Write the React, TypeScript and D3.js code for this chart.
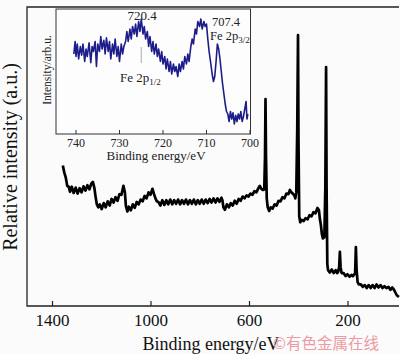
import React from "react";
import * as d3 from "d3";

// Main survey spectrum: binding energy (eV) and relative intensity (a.u.)
const surveyEnergy = [
  1358, 1352, 1346, 1340, 1334, 1329, 1322, 1314, 1306, 1298, 1290, 1282, 1274, 1266, 1258, 1250, 1242, 1236,
  1230, 1225, 1220, 1214, 1208, 1200, 1192, 1184, 1176, 1168, 1160, 1152, 1144, 1136, 1128, 1120, 1112, 1106,
  1102, 1096, 1090, 1082, 1074, 1066, 1058, 1050, 1042, 1034, 1026, 1018, 1010, 1002, 994, 988, 982, 976,
  970, 962, 954, 946, 938, 930, 922, 914, 906, 898, 890, 882, 874, 866, 858, 850, 842, 834, 826, 818, 810,
  802, 794, 786, 778, 770, 762, 754, 746, 738, 730, 722, 714, 710, 706, 700, 692, 684, 676, 668, 660, 652,
  644, 636, 628, 620, 612, 604, 596, 588, 580, 572, 564, 558, 552, 546, 540, 537, 535, 533, 530, 526, 520,
  514, 506, 498, 490, 482, 474, 466, 458, 450, 442, 436, 430, 424, 418, 414, 410, 406, 403, 401, 398, 394,
  388, 380, 372, 364, 356, 348, 340, 332, 324, 318, 314, 310, 306, 302, 296, 292, 289, 287, 284, 281, 274,
  266, 258, 250, 244, 240, 236, 233, 230, 226, 218, 210, 202, 194, 186, 180, 176, 171, 168, 165, 161, 156,
  148, 140, 132, 124, 116, 108, 100, 92, 84, 76, 68, 60, 52, 44, 36, 28, 20, 13, 8, 2, -7,
];
const surveyIntensity = [
  47, 44.6, 42.9, 40.1, 39.9, 38.2, 39.9, 37.8, 39.6, 37.6, 39.4, 38, 40, 38.6, 40.4, 39, 41, 41.5,
  39.5, 36.5, 34, 33, 34, 32.4, 34.4, 33, 35, 33.6, 35.8, 34.6, 36.4, 35.2, 37.4, 37.2, 40.2, 38,
  33.5, 31.6, 33.2, 32, 34, 32.8, 34.8, 34, 35.6, 35, 36.8, 36, 38, 37.2, 39.2, 37.5, 36, 35,
  34.8, 33.6, 35.4, 33.8, 35.4, 34, 35.6, 34, 35.4, 34.2, 35.6, 34, 35.4, 34.2, 35.6, 34, 35.4, 34.2, 35.6, 34, 35.4,
  34.2, 35.6, 34.2, 35.6, 34.4, 35.8, 34.6, 36, 34.6, 36, 34.8, 36.2, 35.4, 33, 32.2, 34, 33, 34.4, 33.6, 35.2, 34.2,
  35.8, 35.2, 36.6, 36, 37, 36.6, 37.6, 37.2, 38.4, 38, 39.4, 40.2, 39.2, 38.8, 39, 50, 69.2, 50, 36, 33, 31.8,
  33, 32.6, 34, 33.6, 35.2, 35, 36.4, 36, 37.6, 37.4, 38.8, 38, 37.6, 37, 36, 38, 60, 90.6, 55, 30, 28,
  28.8, 28.4, 29.4, 29, 30.4, 30, 31.4, 31, 32.8, 32, 29, 27, 24, 22.6, 23, 40, 79.9, 40, 14, 12, 11.2,
  12.2, 11, 12, 11, 11.4, 13, 18.1, 13, 11, 11, 10, 10.6, 9.8, 10.4, 10, 10.4, 11, 19.7, 12, 8, 7.2,
  7.2, 6.4, 7, 6, 7, 6, 7, 6, 7.2, 6.2, 7, 6, 6.6, 6, 6.4, 5.4, 6.2, 5.4, 4.6, 3.6, 3,
];
const surveyTicks = [1400, 1000, 600, 200];

// Inset: Fe 2p high-resolution spectrum
const insetEnergy = [
  740.5, 740.2, 740.0, 739.7, 739.4, 739.0, 738.7, 738.4, 738.0, 737.7, 737.4, 737.0, 736.6, 736.3, 736.0,
  735.6, 735.3, 735.0, 734.6, 734.3, 734.0, 733.6, 733.3, 733.0, 732.6, 732.3, 732.0, 731.6, 731.3, 731.0,
  730.6, 730.3, 730.0, 729.6, 729.3, 729.0, 728.6, 728.3, 728.0, 727.6, 727.3, 727.0, 726.6, 726.3, 726.0,
  725.6, 725.3, 725.0, 724.6, 724.3, 724.0, 723.6, 723.3, 723.0, 722.6, 722.3, 722.0, 721.6, 721.3, 721.0,
  720.6, 720.3, 720.0, 719.6, 719.3, 719.0, 718.6, 718.3, 718.0, 717.6, 717.3, 717.0, 716.6, 716.3, 716.0,
  715.6, 715.3, 715.0, 714.6, 714.3, 714.0, 713.6, 713.3, 713.0, 712.6, 712.3, 712.0, 711.6, 711.3, 711.0,
  710.6, 710.3, 710.0, 709.7, 709.4, 709.0, 708.7, 708.4, 708.1, 707.8, 707.5, 707.2, 706.9, 706.6, 706.3,
  706.0, 705.7, 705.4, 705.1, 704.8, 704.5, 704.2, 703.9, 703.6, 703.3, 703.0, 702.7, 702.4, 702.1, 701.8,
  701.5, 701.2, 700.9, 700.7, 700.5,
];
const insetIntensity = [
  64, 74, 62, 72, 60, 70, 63, 72, 58, 68, 62, 73, 57, 70, 66,
  74, 54, 72, 66, 78, 68, 75, 64, 77, 66, 74, 60, 72, 64, 76,
  62, 70, 58, 72, 64, 70, 74, 82, 74, 84, 76, 86, 80, 88, 78,
  90, 82, 92, 80, 86, 76, 82, 70, 78, 66, 74, 64, 72, 62, 68,
  58, 66, 56, 62, 52, 60, 50, 58, 48, 56, 50, 54, 46, 56, 50,
  58, 52, 62, 56, 64, 58, 70, 76, 72, 84, 80, 90, 86, 92, 84,
  90, 86, 88, 76, 66, 56, 48, 42, 46, 58, 72, 68, 60, 50, 40,
  32, 24, 18, 16, 10, 18, 12, 17, 8, 15, 10, 16, 12, 18, 10,
  14, 20, 26, 12, 16,
];
const insetTicks = [740, 730, 720, 710, 700];

const W = 400;
const H = 354;
const serif = "'Liberation Serif', 'Times New Roman', serif";

export default function App() {
  // main plot frame
  const left = 27, right = 399, top = 7, bottom = 306;
  const x = d3.scaleLinear().domain([1400, 200]).range([52.5, 348]);
  const y = d3.scaleLinear().domain([0, 100]).range([bottom, top]);
  const surveyData = surveyEnergy.map((e, i) => [e, surveyIntensity[i]] as [number, number]);
  const line = d3.line<[number, number]>().x((d) => x(d[0])).y((d) => y(d[1]));

  // inset frame
  const iL = 56, iR = 250.5, iT = 9, iB = 134;
  const ix = d3.scaleLinear().domain([740, 700]).range([76, 250]);
  const iy = d3.scaleLinear().domain([0, 100]).range([iB, iT]);
  const insetData = insetEnergy.map((e, i) => [e, insetIntensity[i]] as [number, number]);
  const iline = d3.line<[number, number]>().x((d) => ix(d[0])).y((d) => iy(d[1]));

  return (
    <svg width={W} height={H} style={{ position: "absolute", left: 0, top: 0, background: "#fbfbfb" }}>
      <rect x={0} y={0} width={W} height={H} fill="#fbfbfb" />
      {/* main frame */}
      <path d={`M${right},${top}H${left}V${bottom}H${right}`} fill="none" stroke="#222" strokeWidth={1.3} />
      {surveyTicks.map((t) => (
        <g key={t}>
          <line x1={x(t)} x2={x(t)} y1={bottom} y2={bottom - 5} stroke="#222" strokeWidth={1.2} />
          <text x={x(t)} y={326} textAnchor="middle" fontFamily={serif} fontSize={17} fill="#111">
            {t}
          </text>
        </g>
      ))}
      <path d={line(surveyData) || ""} fill="none" stroke="#000" strokeWidth={2.7} strokeLinejoin="round" />
      <text x={211} y={350} textAnchor="middle" fontFamily={serif} fontSize={18} fill="#111">
        Binding energy/eV
      </text>
      <text
        transform="translate(17,157) rotate(-90)"
        textAnchor="middle"
        fontFamily={serif}
        fontSize={20}
        fill="#111"
      >
        Relative intensity (a.u.)
      </text>

      {/* inset */}
      <rect x={iL} y={iT} width={iR - iL} height={iB - iT} fill="#fdfdfd" stroke="#333" strokeWidth={1} />
      {insetTicks.map((t) => (
        <g key={t}>
          <line x1={ix(t)} x2={ix(t)} y1={iB} y2={iB - 4} stroke="#333" strokeWidth={1} />
          <text x={ix(t)} y={146.5} textAnchor="middle" fontFamily={serif} fontSize={12} fill="#222">
            {t}
          </text>
        </g>
      ))}
      <line x1={ix(725)} x2={ix(725)} y1={47} y2={63} stroke="#aaa" strokeWidth={1} />
      <path d={iline(insetData) || ""} fill="none" stroke="#1c1c8a" strokeWidth={1.6} strokeLinejoin="round" />
      <text x={156} y={160} textAnchor="middle" fontFamily={serif} fontSize={13} fill="#222">
        Binding energy/eV
      </text>
      <text
        transform="translate(51,70) rotate(-90)"
        textAnchor="middle"
        fontFamily={serif}
        fontSize={11.5}
        fill="#222"
      >
        Intensity/arb.u.
      </text>
      <text x={142} y={20} textAnchor="middle" fontFamily={serif} fontSize={13} fill="#222">
        720.4
      </text>
      <text x={120} y={82} fontFamily={serif} fontSize={13} fill="#222">
        Fe 2p<tspan fontSize={9} dy={3}>1/2</tspan>
      </text>
      <text x={226} y={25.5} textAnchor="middle" fontFamily={serif} fontSize={12.5} fill="#222">
        707.4
      </text>
      <text x={210} y={40} fontFamily={serif} fontSize={12.5} fill="#222">
        Fe 2p<tspan fontSize={9} dy={3}>3/2</tspan>
      </text>

      {/* watermark */}
      <text x={273} y={348.5} fontFamily="'Noto Sans CJK SC', sans-serif" fontSize={15.5} fill="#ee9aa2">
        ©有色金属在线
      </text>
    </svg>
  );
}
